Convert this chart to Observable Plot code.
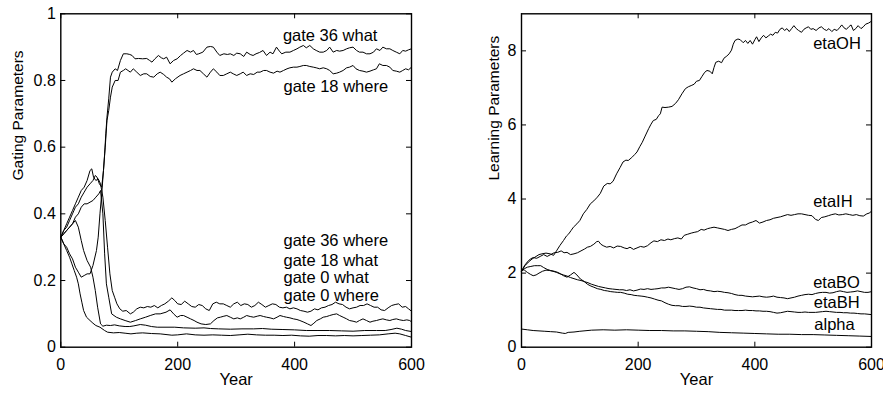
<!DOCTYPE html>
<html><head><meta charset="utf-8">
<script src="https://cdn.jsdelivr.net/npm/d3@7"></script>
<script src="https://cdn.jsdelivr.net/npm/@observablehq/plot@0.6"></script>
<style>
body{margin:0;background:#fff;}
#wrap{position:relative;width:883px;height:394px;overflow:hidden;background:#fff;}
#left,#right{position:absolute;top:0;}
#left{left:0}
#right{left:441px}
</style></head><body><div id="wrap"><div id="left"></div><div id="right"></div></div>
<script>
// ---------- Data ----------
const xTicks = [0, 200, 400, 600];
const gatingTicks = [0, 0.2, 0.4, 0.6, 0.8, 1];
const learningTicks = [0, 2, 4, 6, 8];

const gate36What = [[0,0.33],[5,0.31],[10,0.30],[15,0.28],[20,0.265],[25,0.24],[30,0.225],[35,0.21],[40,0.215],[45,0.22],[50,0.22],[55,0.245],[61,0.29],[64,0.33],[67,0.40],[70,0.46],[73,0.53],[75,0.58],[77,0.64],[79,0.69],[82,0.745],[85,0.81],[88,0.825],[93,0.835],[97,0.83],[102,0.86],[107,0.88],[113,0.88],[118,0.878],[122,0.875],[127,0.865],[133,0.866],[140,0.865],[147,0.866],[152,0.86],[156,0.855],[161,0.865],[167,0.875],[172,0.868],[176,0.865],[181,0.87],[187,0.85],[193,0.86],[199,0.865],[205,0.875],[210,0.882],[216,0.89],[222,0.885],[227,0.89],[232,0.878],[236,0.88],[243,0.885],[250,0.9],[256,0.902],[261,0.9],[267,0.885],[272,0.875],[279,0.88],[285,0.878],[290,0.88],[296,0.875],[301,0.882],[307,0.88],[313,0.872],[318,0.885],[324,0.878],[329,0.875],[334,0.88],[340,0.884],[346,0.89],[352,0.875],[358,0.885],[363,0.88],[369,0.9],[374,0.888],[378,0.88],[385,0.885],[392,0.885],[398,0.89],[404,0.895],[409,0.9],[415,0.905],[420,0.898],[426,0.905],[432,0.895],[437,0.89],[443,0.885],[449,0.885],[455,0.89],[460,0.9],[466,0.885],[472,0.89],[477,0.888],[483,0.89],[489,0.895],[494,0.898],[500,0.9],[506,0.89],[511,0.885],[517,0.885],[523,0.88],[529,0.88],[535,0.885],[540,0.895],[546,0.89],[551,0.9],[557,0.895],[563,0.895],[568,0.89],[574,0.885],[580,0.88],[585,0.89],[590,0.888],[595,0.892],[600,0.895]];

const gate18Where = [[0,0.33],[5,0.35],[10,0.36],[15,0.38],[20,0.40],[25,0.42],[30,0.43],[35,0.45],[40,0.465],[45,0.48],[50,0.49],[55,0.50],[59,0.515],[62,0.51],[66,0.49],[70,0.48],[73,0.53],[76,0.60],[79,0.68],[82,0.71],[85,0.75],[88,0.78],[93,0.80],[98,0.80],[102,0.825],[107,0.83],[111,0.835],[115,0.83],[119,0.825],[124,0.835],[130,0.825],[136,0.815],[142,0.82],[147,0.82],[153,0.812],[159,0.81],[165,0.82],[170,0.825],[176,0.818],[181,0.81],[186,0.805],[190,0.795],[196,0.805],[204,0.815],[210,0.82],[216,0.825],[222,0.83],[227,0.835],[233,0.83],[238,0.83],[244,0.82],[250,0.81],[256,0.825],[261,0.835],[267,0.825],[272,0.815],[278,0.815],[284,0.82],[290,0.825],[295,0.82],[301,0.815],[307,0.82],[312,0.825],[318,0.815],[324,0.82],[330,0.818],[336,0.825],[341,0.825],[347,0.83],[352,0.83],[358,0.825],[364,0.822],[370,0.828],[375,0.825],[381,0.83],[387,0.835],[392,0.838],[398,0.84],[404,0.84],[409,0.842],[415,0.845],[420,0.845],[426,0.842],[432,0.84],[437,0.838],[443,0.835],[449,0.838],[455,0.835],[460,0.83],[466,0.82],[472,0.822],[477,0.825],[483,0.83],[489,0.838],[494,0.84],[500,0.845],[505,0.835],[511,0.83],[517,0.828],[523,0.825],[529,0.828],[535,0.832],[540,0.835],[545,0.85],[551,0.845],[557,0.845],[563,0.84],[568,0.83],[574,0.828],[580,0.825],[585,0.83],[590,0.835],[595,0.832],[600,0.84]];

const gate36Where = [[0,0.33],[5,0.35],[10,0.37],[15,0.39],[20,0.41],[25,0.43],[30,0.45],[35,0.47],[40,0.48],[45,0.50],[50,0.53],[53,0.535],[56,0.51],[60,0.50],[64,0.505],[68,0.49],[72,0.45],[76,0.38],[80,0.30],[84,0.22],[88,0.17],[92,0.15],[96,0.13],[101,0.115],[106,0.108],[112,0.11],[119,0.1],[124,0.105],[130,0.115],[136,0.12],[142,0.118],[148,0.122],[154,0.12],[160,0.125],[166,0.118],[172,0.125],[178,0.13],[184,0.138],[190,0.148],[195,0.14],[200,0.13],[206,0.128],[212,0.138],[218,0.13],[224,0.122],[230,0.12],[236,0.128],[242,0.125],[248,0.115],[254,0.11],[260,0.13],[266,0.135],[272,0.13],[278,0.13],[284,0.125],[290,0.12],[296,0.13],[302,0.135],[308,0.125],[314,0.13],[320,0.128],[326,0.12],[332,0.125],[338,0.135],[344,0.128],[350,0.12],[356,0.125],[362,0.13],[368,0.128],[374,0.12],[380,0.118],[386,0.12],[392,0.115],[398,0.118],[404,0.115],[410,0.11],[416,0.108],[422,0.105],[428,0.108],[434,0.115],[440,0.112],[446,0.118],[452,0.12],[458,0.125],[464,0.128],[470,0.135],[476,0.13],[482,0.128],[488,0.12],[494,0.115],[500,0.118],[506,0.12],[512,0.125],[518,0.125],[524,0.13],[530,0.125],[536,0.12],[542,0.12],[548,0.112],[554,0.11],[560,0.118],[566,0.125],[572,0.128],[578,0.13],[584,0.12],[590,0.122],[595,0.115],[600,0.108]];

const gate18What = [[0,0.33],[5,0.34],[10,0.35],[15,0.36],[20,0.37],[25,0.39],[30,0.40],[35,0.42],[40,0.43],[45,0.43],[50,0.435],[55,0.44],[60,0.45],[65,0.46],[68,0.47],[72,0.40],[75,0.28],[78,0.19],[82,0.15],[87,0.10],[95,0.09],[102,0.085],[110,0.08],[119,0.075],[128,0.08],[136,0.085],[145,0.09],[153,0.095],[162,0.1],[170,0.1],[180,0.105],[187,0.112],[193,0.1],[199,0.09],[205,0.095],[210,0.095],[216,0.09],[222,0.085],[228,0.08],[233,0.075],[240,0.07],[248,0.068],[256,0.07],[262,0.08],[268,0.088],[273,0.09],[279,0.093],[284,0.095],[290,0.09],[296,0.085],[302,0.088],[307,0.085],[313,0.09],[318,0.095],[324,0.092],[330,0.09],[336,0.093],[341,0.095],[347,0.092],[352,0.09],[358,0.088],[364,0.085],[370,0.09],[375,0.095],[381,0.092],[386,0.09],[392,0.088],[398,0.085],[404,0.083],[409,0.08],[416,0.075],[422,0.07],[428,0.065],[433,0.072],[438,0.08],[444,0.085],[449,0.09],[455,0.092],[460,0.095],[466,0.098],[472,0.1],[477,0.095],[483,0.09],[489,0.085],[494,0.08],[500,0.078],[506,0.075],[511,0.08],[517,0.085],[523,0.08],[529,0.075],[534,0.078],[540,0.08],[546,0.083],[551,0.085],[557,0.082],[563,0.08],[568,0.083],[574,0.085],[580,0.082],[586,0.08],[592,0.082],[597,0.08],[600,0.076]];

const gate0What = [[0,0.33],[5,0.34],[10,0.35],[15,0.36],[20,0.37],[25,0.38],[30,0.36],[35,0.32],[39,0.29],[45,0.26],[51,0.24],[55,0.21],[59,0.17],[63,0.12],[68,0.07],[72,0.063],[78,0.066],[85,0.065],[92,0.067],[100,0.064],[110,0.062],[118,0.062],[125,0.064],[136,0.068],[145,0.066],[155,0.062],[165,0.06],[180,0.06],[195,0.06],[210,0.058],[230,0.057],[245,0.058],[256,0.056],[270,0.055],[290,0.054],[310,0.055],[330,0.055],[345,0.056],[360,0.054],[380,0.053],[400,0.052],[420,0.05],[440,0.05],[460,0.05],[480,0.049],[500,0.048],[520,0.05],[540,0.05],[555,0.05],[565,0.053],[575,0.057],[583,0.054],[590,0.05],[600,0.047]];

const gate0Where = [[0,0.33],[5,0.31],[10,0.29],[15,0.27],[19,0.25],[23,0.23],[27,0.21],[30,0.19],[33,0.16],[36,0.135],[39,0.11],[44,0.09],[50,0.08],[55,0.072],[60,0.065],[67,0.06],[75,0.05],[80,0.045],[90,0.043],[100,0.044],[110,0.042],[120,0.04],[130,0.042],[140,0.043],[155,0.041],[170,0.04],[190,0.036],[200,0.037],[215,0.04],[230,0.037],[245,0.036],[260,0.037],[275,0.036],[290,0.035],[305,0.037],[320,0.039],[335,0.037],[350,0.036],[365,0.036],[380,0.035],[395,0.036],[410,0.034],[425,0.033],[440,0.035],[455,0.035],[470,0.034],[485,0.035],[500,0.034],[515,0.035],[530,0.036],[545,0.037],[560,0.04],[572,0.042],[580,0.04],[590,0.035],[600,0.03]];

const etaOH = [[0,2.05],[6,2.2],[12,2.3],[18,2.38],[23,2.43],[30,2.5],[35,2.52],[42,2.54],[49,2.52],[55,2.48],[60,2.6],[66,2.75],[72,2.88],[77,3.0],[81,3.06],[85,3.15],[89,3.24],[95,3.33],[100,3.42],[106,3.6],[112,3.72],[118,3.87],[124,3.95],[130,4.05],[135,4.15],[141,4.35],[147,4.42],[152,4.41],[157,4.48],[163,4.68],[169,4.85],[174,5.0],[179,5.05],[183,5.04],[189,5.12],[194,5.2],[198,5.27],[203,5.42],[207,5.53],[212,5.7],[218,5.9],[222,6.02],[226,6.12],[231,6.15],[235,6.25],[238,6.3],[241,6.48],[246,6.47],[252,6.48],[258,6.5],[264,6.58],[269,6.68],[275,6.84],[281,6.98],[286,7.03],[292,7.07],[296,7.1],[300,7.18],[305,7.2],[309,7.3],[314,7.42],[318,7.47],[323,7.45],[327,7.38],[330,7.55],[333,7.69],[338,7.72],[343,7.68],[347,7.8],[352,7.86],[356,7.92],[360,8.02],[363,8.18],[366,8.28],[371,8.32],[375,8.3],[380,8.22],[384,8.28],[388,8.2],[392,8.28],[396,8.18],[400,8.3],[403,8.38],[407,8.25],[411,8.35],[415,8.42],[419,8.35],[423,8.4],[427,8.45],[431,8.42],[435,8.5],[439,8.48],[443,8.58],[447,8.62],[451,8.55],[455,8.6],[459,8.52],[463,8.6],[467,8.68],[471,8.6],[475,8.55],[480,8.5],[484,8.58],[488,8.62],[492,8.65],[496,8.58],[500,8.6],[505,8.55],[510,8.62],[514,8.65],[519,8.58],[523,8.55],[527,8.6],[532,8.52],[536,8.58],[541,8.55],[545,8.62],[549,8.7],[553,8.62],[557,8.58],[561,8.65],[565,8.7],[569,8.55],[573,8.6],[577,8.68],[582,8.6],[586,8.65],[590,8.72],[595,8.75],[600,8.8]];

const etaIH = [[0,2.05],[5,2.2],[10,2.3],[15,2.38],[20,2.42],[26,2.4],[32,2.45],[38,2.5],[44,2.45],[50,2.5],[56,2.55],[62,2.56],[68,2.6],[73,2.55],[78,2.56],[84,2.5],[90,2.52],[96,2.55],[102,2.6],[108,2.65],[113,2.7],[118,2.72],[124,2.78],[129,2.85],[132,2.86],[136,2.78],[140,2.74],[146,2.7],[152,2.72],[158,2.68],[164,2.73],[170,2.72],[176,2.68],[181,2.66],[186,2.7],[192,2.64],[198,2.68],[204,2.72],[210,2.7],[216,2.74],[222,2.82],[227,2.87],[233,2.85],[239,2.9],[245,2.88],[251,2.92],[256,2.9],[262,2.93],[268,2.95],[274,2.92],[279,3.02],[285,3.05],[291,3.08],[296,3.1],[302,3.12],[308,3.18],[313,3.16],[319,3.2],[324,3.22],[330,3.24],[336,3.22],[342,3.2],[348,3.18],[354,3.15],[360,3.18],[366,3.2],[372,3.25],[378,3.3],[384,3.3],[390,3.35],[396,3.38],[402,3.42],[408,3.35],[414,3.38],[420,3.42],[426,3.44],[432,3.48],[438,3.5],[444,3.52],[450,3.55],[456,3.58],[462,3.56],[468,3.58],[474,3.6],[480,3.6],[486,3.58],[492,3.56],[498,3.55],[504,3.45],[509,3.42],[514,3.5],[520,3.52],[526,3.55],[532,3.58],[538,3.6],[544,3.57],[550,3.58],[556,3.6],[562,3.58],[568,3.56],[574,3.58],[580,3.55],[586,3.54],[592,3.6],[596,3.62],[600,3.67]];

const etaBO = [[0,2.1],[5,2.08],[10,2.02],[15,1.97],[20,1.93],[25,1.95],[30,2.0],[36,2.05],[42,2.08],[48,2.07],[54,2.05],[60,2.02],[66,1.98],[72,1.95],[78,1.92],[84,1.88],[90,1.85],[96,1.82],[102,1.8],[108,1.77],[114,1.74],[120,1.7],[126,1.67],[132,1.64],[138,1.62],[144,1.6],[150,1.58],[156,1.57],[162,1.56],[168,1.55],[174,1.55],[180,1.53],[186,1.55],[192,1.52],[198,1.54],[204,1.57],[210,1.56],[216,1.58],[222,1.56],[228,1.57],[234,1.58],[240,1.6],[246,1.6],[252,1.62],[258,1.6],[264,1.58],[270,1.56],[276,1.58],[282,1.62],[288,1.63],[294,1.6],[300,1.58],[306,1.55],[312,1.56],[318,1.53],[324,1.52],[330,1.5],[336,1.51],[342,1.5],[348,1.48],[354,1.47],[360,1.45],[366,1.42],[372,1.4],[378,1.4],[384,1.38],[390,1.37],[396,1.36],[402,1.37],[408,1.38],[414,1.36],[420,1.35],[426,1.36],[432,1.38],[438,1.35],[444,1.34],[450,1.33],[456,1.31],[462,1.33],[468,1.35],[474,1.38],[480,1.4],[486,1.42],[492,1.43],[498,1.42],[504,1.45],[510,1.47],[516,1.48],[522,1.48],[528,1.46],[534,1.47],[540,1.5],[546,1.52],[552,1.5],[558,1.48],[564,1.49],[570,1.5],[576,1.52],[582,1.5],[588,1.48],[594,1.48],[600,1.5]];

const etaBH = [[0,2.05],[5,2.12],[10,2.16],[16,2.18],[22,2.2],[28,2.2],[33,2.2],[38,2.15],[44,2.1],[50,2.07],[56,2.05],[62,2.02],[67,1.98],[72,1.93],[78,1.89],[84,1.95],[90,2.02],[95,1.95],[101,1.84],[107,1.78],[113,1.7],[119,1.65],[124,1.62],[130,1.58],[136,1.56],[142,1.53],[147,1.52],[153,1.5],[159,1.49],[165,1.48],[170,1.48],[176,1.46],[182,1.43],[188,1.42],[193,1.4],[199,1.39],[205,1.38],[210,1.37],[216,1.35],[222,1.33],[228,1.3],[234,1.27],[240,1.25],[246,1.2],[252,1.16],[258,1.13],[264,1.12],[270,1.12],[276,1.1],[282,1.1],[288,1.11],[294,1.1],[300,1.08],[306,1.08],[312,1.06],[318,1.05],[324,1.04],[330,1.03],[336,1.02],[342,1.02],[348,1.0],[354,1.0],[360,1.0],[366,0.99],[372,0.99],[378,0.99],[384,1.0],[390,0.99],[396,0.99],[402,0.98],[408,0.98],[414,0.97],[420,0.97],[426,0.96],[432,0.94],[438,0.92],[444,0.93],[450,0.95],[456,0.97],[462,0.96],[468,0.95],[474,0.94],[480,0.94],[486,0.95],[492,0.94],[498,0.94],[504,0.94],[510,0.95],[516,0.96],[522,0.97],[528,0.96],[534,0.95],[540,0.94],[546,0.94],[552,0.93],[558,0.93],[564,0.92],[570,0.92],[576,0.91],[582,0.9],[588,0.9],[594,0.89],[600,0.88]];

const alpha = [[0,0.49],[10,0.47],[20,0.45],[30,0.44],[40,0.43],[50,0.42],[60,0.41],[70,0.38],[75,0.37],[80,0.4],[90,0.41],[100,0.43],[120,0.46],[140,0.47],[160,0.46],[180,0.47],[200,0.46],[220,0.45],[240,0.45],[260,0.44],[280,0.44],[300,0.43],[320,0.42],[340,0.4],[360,0.39],[380,0.38],[400,0.37],[420,0.36],[440,0.35],[460,0.35],[480,0.34],[500,0.34],[520,0.33],[540,0.32],[560,0.31],[580,0.3],[600,0.29]];

const gatingNames = ["gate 36 what", "gate 18 where", "gate 36 where", "gate 18 what", "gate 0 what", "gate 0 where"];
const learningNames = ["etaOH", "etaIH", "etaBO", "etaBH", "alpha"];

// ---------- Drawing ----------
const FONT = "'Liberation Sans', Arial, Helvetica, sans-serif";
const H = 394, MT = 13.3, MB = 47.3, TICK = 5;

function panel({series, yDomain, yTicks, yLabel, labelMarks, width, marginLeft, marginRight, yLabelDx}) {
  const innerH = H - MT - MB;
  const innerW = width - marginLeft - marginRight;
  return Plot.plot({
    width, height: H, marginLeft, marginRight, marginTop: MT, marginBottom: MB,
    style: {fontFamily: FONT, fontSize: "16px", color: "#000", background: "transparent", overflow: "visible"},
    x: {domain: [0, 600]},
    y: {domain: yDomain},
    marks: [
      ...series.map(s => Plot.line(s, {x: d => d[0], y: d => d[1], stroke: "#000", strokeWidth: 1})),
      Plot.frame({stroke: "#000", strokeWidth: 1.4}),
      Plot.tickX(xTicks, {x: d => d, insetTop: innerH - TICK, stroke: "#000", strokeWidth: 1}),
      Plot.tickX(xTicks, {x: d => d, insetBottom: innerH - TICK, stroke: "#000", strokeWidth: 1}),
      Plot.tickY(yTicks, {y: d => d, insetRight: innerW - TICK, stroke: "#000", strokeWidth: 1}),
      Plot.tickY(yTicks, {y: d => d, insetLeft: innerW - TICK, stroke: "#000", strokeWidth: 1}),
      Plot.axisX(xTicks, {tickSize: 0, tickPadding: 11, tickFormat: d => String(d), label: null, fontSize: 16}),
      Plot.axisY(yTicks, {tickSize: 0, tickPadding: 5, tickFormat: d => String(d), label: null, fontSize: 16}),
      Plot.text(["Year"], {frameAnchor: "bottom", dy: 38, text: d => d, fontSize: 16.5, fill: "#000"}),
      Plot.text([yLabel], {frameAnchor: "left", dx: yLabelDx, rotate: -90, text: d => d, fontSize: 15.5, fill: "#000"}),
      ...labelMarks
    ]
  });
}

const leftLabelPos = [[380, 0.935], [381, 0.78], [381, 0.32], [381, 0.26], [381, 0.2075], [381, 0.155]];
const leftPlot = panel({
  series: [gate36What, gate18Where, gate36Where, gate18What, gate0What, gate0Where],
  yDomain: [0, 1], yTicks: gatingTicks, yLabel: "Gating Parameters",
  width: 441, marginLeft: 60.3, marginRight: 30, yLabelDx: -42.5,
  labelMarks: [Plot.text(gatingNames, {x: (d, i) => leftLabelPos[i][0], y: (d, i) => leftLabelPos[i][1], text: d => d, textAnchor: "start", fontSize: 16.5, fill: "#000"})]
});

const rightLabelPos = [[500, 8.2], [500, 3.93], [500, 1.73], [501, 1.19], [502, 0.61]];
const rightPlot = panel({
  series: [etaOH, etaIH, etaBO, etaBH, alpha],
  yDomain: [0, 9], yTicks: learningTicks, yLabel: "Learning Parameters",
  width: 442, marginLeft: 80, marginRight: 12, yLabelDx: -27.5,
  labelMarks: [Plot.text(learningNames, {x: (d, i) => rightLabelPos[i][0], y: (d, i) => rightLabelPos[i][1], text: d => d, textAnchor: "start", fontSize: 16.5, fill: "#000"})]
});

document.getElementById("left").appendChild(leftPlot);
document.getElementById("right").appendChild(rightPlot);
</script>
</body></html>
